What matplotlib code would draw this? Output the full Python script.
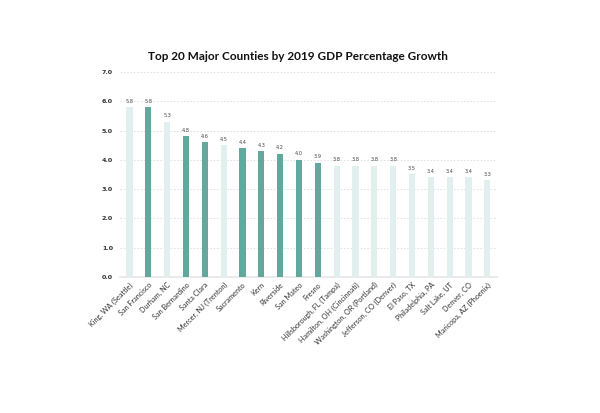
import matplotlib
matplotlib.use("Agg")
import matplotlib.pyplot as plt

counties = ["King, WA (Seattle)", "San Francisco", "Durham, NC", "San Bernardino", "Santa Clara",
            "Mercer, NJ (Trenton)", "Sacramento", "Kern", "Riverside", "San Mateo", "Fresno",
            "Hillsborough, FL (Tampa)", "Hamilton, OH (Cincinnati)", "Washington, OR (Portland)",
            "Jefferson, CO (Denver)", "El Paso, TX", "Philadelphia, PA", "Salt Lake, UT",
            "Denver, CO", "Maricopa, AZ (Phoenix)"]
growth = [5.8, 5.8, 5.3, 4.8, 4.6, 4.5, 4.4, 4.3, 4.2, 4.0, 3.9, 3.8, 3.8, 3.8, 3.8, 3.5, 3.4, 3.4, 3.4, 3.3]
california = [False, True, False, True, True, False, True, True, True, True, True,
              False, False, False, False, False, False, False, False, False]
yticks = [0, 1, 2, 3, 4, 5, 6, 7]

dark = "#62a89d"
light = "#e1f0ee"
colors = [dark if c else light for c in california]

plt.rcParams['font.family'] = ['Lato', 'DejaVu Sans']
fig = plt.figure(figsize=(6, 4.13), dpi=100)
ax = fig.add_axes([0.2, 0.329, 0.628, 0.497])

x = list(range(len(counties)))
ax.bar(x, growth, width=0.33, color=colors, zorder=3)
for xi, v in zip(x, growth):
    ax.text(xi, v + 0.12, f"{v:.1f}", ha="center", va="bottom", fontsize=3.6,
            color="#444444", family="DejaVu Sans")

ax.set_xlim(-0.5, len(counties) - 0.5)
ax.set_ylim(0, 7.0)
ax.set_yticks(yticks)
ax.set_yticklabels([f"{v:.1f}" for v in yticks], fontsize=4.6, fontweight="bold",
                   color="#333333", family="DejaVu Sans")
ax.set_xticks(x)
ax.set_xticklabels(counties, rotation=45, ha="right", rotation_mode="anchor", fontsize=5.2, color="#333333")
ax.tick_params(axis="both", length=0, pad=5)
ax.tick_params(axis="x", pad=3)

for s in ["top", "right", "left"]:
    ax.spines[s].set_visible(False)
ax.spines["bottom"].set_color("#e6e6e6")
ax.spines["bottom"].set_linewidth(1.2)
ax.yaxis.grid(True, linestyle=(0, (2, 2)), color="#dddddd", linewidth=0.6, zorder=0)

fig.text(0.497, 0.862, "Top 20 Major Counties by 2019 GDP Percentage Growth", ha="center", va="center",
         fontsize=8.5, fontweight="bold", color="#111111")

fig.savefig("out.png", dpi=100)
